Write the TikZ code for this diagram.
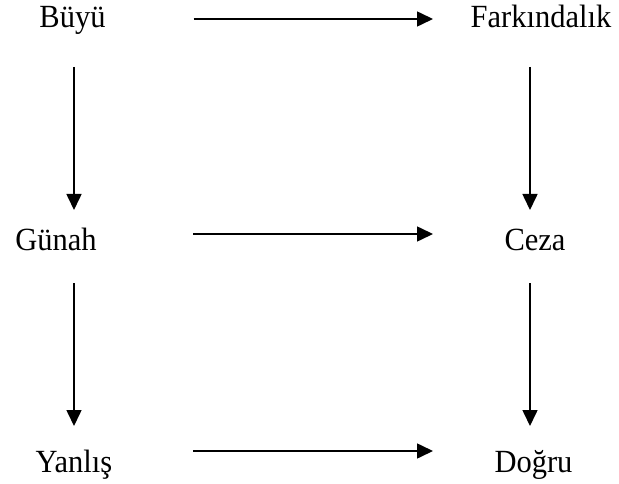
\documentclass[tikz,border=0pt]{standalone}
\usepackage{fontspec}
\setmainfont{Liberation Serif}
\usetikzlibrary{arrows.meta}
\begin{document}
\begin{tikzpicture}[x=1pt,y=1pt,
  lbl/.style={anchor=base,inner sep=0pt,font=\fontsize{30.5}{36}\selectfont},
  arr/.style={line width=1.6pt,-{Triangle[length=16pt,width=15pt]}}]
\useasboundingbox (0,0) rectangle (619,483);
\node[lbl] (buyu) at (72.5,455) {\scalebox{1}[1.06]{Büyü}};
\node[lbl] (fark) at (541,455) {\scalebox{1}[1.06]{Farkındalık}};
\node[lbl] (gunah) at (56,233) {\scalebox{1}[1.06]{Günah}};
\node[lbl] (ceza) at (535,233) {\scalebox{1}[1.06]{Ceza}};
\node[lbl] (yanlis) at (74,11) {\scalebox{1}[1.06]{Yanlış}};
\node[lbl] (dogru) at (533.5,11) {\scalebox{1}[1.06]{Doğru}};
% horizontal
\draw[arr] ([shift={(121,9)}]buyu.base) -- ([shift={(-108,9)}]fark.base);
\draw[arr] ([shift={(137,16)}]gunah.base) -- ([shift={(-102,16)}]ceza.base);
\draw[arr] ([shift={(119,21)}]yanlis.base) -- ([shift={(-100.5,21)}]dogru.base);
% vertical
\draw[arr] ([shift={(1.5,-39)}]buyu.base) -- ([shift={(18,40)}]gunah.base);
\draw[arr] ([shift={(-11,-39)}]fark.base) -- ([shift={(-5,40)}]ceza.base);
\draw[arr] ([shift={(18,-33)}]gunah.base) -- ([shift={(0,46)}]yanlis.base);
\draw[arr] ([shift={(-5,-33)}]ceza.base) -- ([shift={(-3.5,46)}]dogru.base);
\end{tikzpicture}
\end{document}
